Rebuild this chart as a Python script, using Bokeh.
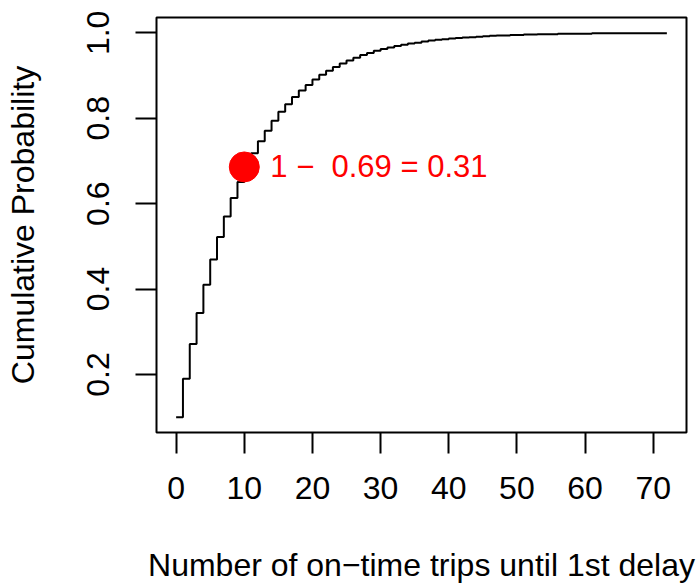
from bokeh.plotting import figure
from bokeh.models import FixedTicker, Range1d, ColumnDataSource, CustomJSTickFormatter
from bokeh.core.properties import value
from bokeh.embed import file_html
from bokeh.resources import INLINE

# Data: trials x = 0..72 and the cumulative probability
trips = list(range(0, 73))
cum_prob = [0.100, 0.190, 0.271, 0.344, 0.410, 0.469, 0.522, 0.570, 0.613, 0.651,
            0.686, 0.718, 0.746, 0.771, 0.794, 0.815, 0.833, 0.850, 0.865, 0.878,
            0.891, 0.902, 0.911, 0.920, 0.928, 0.935, 0.942, 0.948, 0.953, 0.958,
            0.962, 0.966, 0.969, 0.972, 0.975, 0.977, 0.980, 0.982, 0.984, 0.985,
            0.987, 0.988, 0.989, 0.990, 0.991, 0.992, 0.993, 0.994, 0.994, 0.995,
            0.995, 0.996, 0.996, 0.997, 0.997, 0.997, 0.998, 0.998, 0.998, 0.998,
            0.998, 0.999, 0.999, 0.999, 0.999, 0.999, 0.999, 0.999, 0.999, 0.999,
            0.999, 0.999, 0.999]
point_x = [10]
point_y = [0.686]
point_label = ["1 \u2212 \u00a00.69 = 0.31"]
x_ticks = [0, 10, 20, 30, 40, 50, 60, 70]
y_ticks = [0.2, 0.4, 0.6, 0.8, 1.0]
x_title = "Number of on\u2212time trips until 1st delay"
y_title = "Cumulative Probability"

FONT = "Liberation Sans"
FS = "32px"

p = figure(frame_width=530, frame_height=415,
           min_border_left=156, min_border_right=10,
           min_border_top=17, min_border_bottom=154,
           output_backend="svg", toolbar_location=None,
           x_range=Range1d(-2.88, 74.88), y_range=Range1d(0.064, 1.036))

p.background_fill_color = "white"
p.border_fill_color = "white"
p.outline_line_color = "black"
p.outline_line_width = 2
p.xgrid.visible = False
p.ygrid.visible = False

p.step(trips, cum_prob, mode="after", line_color="black", line_width=2)

src = ColumnDataSource(dict(x=point_x, y=point_y, t=point_label))
p.scatter("x", "y", source=src, size=30, fill_color="#FF0000", line_color="#FF0000")
p.text("x", "y", text="t", source=src, x_offset=26, text_baseline="middle",
       text_align="left", text_color="#FF0000", text_font=value(FONT),
       text_font_size="31px")

for ax in (p.xaxis[0], p.yaxis[0]):
    ax.axis_line_color = None
    ax.major_tick_line_color = "black"
    ax.major_tick_line_width = 2
    ax.major_tick_in = 0
    ax.major_tick_out = 21
    ax.minor_tick_line_color = None
    ax.major_label_text_font = FONT
    ax.major_label_text_font_size = FS
    ax.major_label_text_color = "black"
    ax.axis_label_text_font = FONT
    ax.axis_label_text_font_size = FS
    ax.axis_label_text_font_style = "normal"
    ax.axis_label_text_color = "black"

p.xaxis.ticker = FixedTicker(ticks=x_ticks)
p.yaxis.ticker = FixedTicker(ticks=y_ticks)
p.xaxis.axis_label = x_title
p.yaxis.axis_label = y_title
p.xaxis.major_label_standoff = 23
p.xaxis.axis_label_standoff = 45
p.yaxis.major_label_standoff = 26
p.yaxis.major_label_orientation = "vertical"
p.yaxis.axis_label_standoff = 44
p.yaxis.formatter = CustomJSTickFormatter(code="return tick.toFixed(1);")

open("out.html", "w").write(file_html(p, INLINE))
